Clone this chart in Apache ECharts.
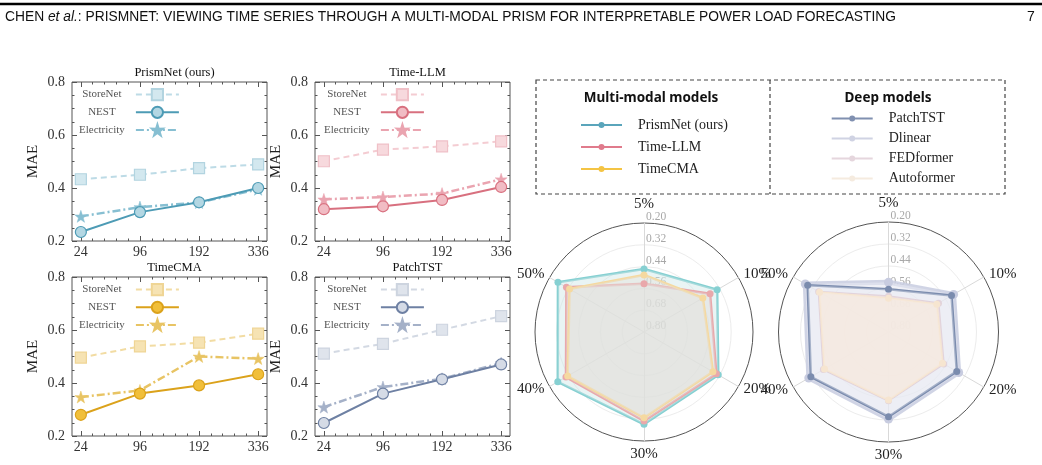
<!DOCTYPE html>
<html><head><meta charset="utf-8">
<script src="https://cdn.jsdelivr.net/npm/echarts@6/dist/echarts.min.js"></script>
<style>html,body{margin:0;padding:0;background:#fff}#c{width:1042px;height:465px}</style>
</head><body><div id="c"></div><script>
// ---------- data ----------
const horizons = ['24', '96', '192', '336'];
const panelTitles = ['PrismNet (ours)', 'Time-LLM', 'TimeCMA', 'PatchTST'];
const datasetNames = ['StoreNet', 'NEST', 'Electricity'];

const prismStoreNet = [0.433, 0.450, 0.475, 0.489];
const prismNEST     = [0.234, 0.309, 0.346, 0.400];
const prismElec     = [0.293, 0.328, 0.345, 0.395];
const llmStoreNet   = [0.501, 0.545, 0.557, 0.576];
const llmNEST       = [0.320, 0.331, 0.355, 0.404];
const llmElec       = [0.357, 0.366, 0.379, 0.433];
const cmaStoreNet   = [0.496, 0.538, 0.552, 0.586];
const cmaNEST       = [0.280, 0.360, 0.391, 0.433];
const cmaElec       = [0.347, 0.372, 0.500, 0.492];
const patchStoreNet = [0.511, 0.548, 0.601, 0.652];
const patchNEST     = [0.249, 0.360, 0.414, 0.470];
const patchElec     = [0.309, 0.385, 0.416, 0.475];

const radarAxes = ['5%', '10%', '20%', '30%', '40%', '50%'];
const multiModalNames = ['PrismNet (ours)', 'Time-LLM', 'TimeCMA'];
const deepNames = ['PatchTST', 'Dlinear', 'FEDformer', 'Autoformer'];
const prismRadar   = [0.453, 0.335, 0.328, 0.292, 0.252, 0.253];
const timeLLMRadar = [0.534, 0.380, 0.340, 0.310, 0.304, 0.307];
const timeCMARadar = [0.486, 0.426, 0.362, 0.328, 0.315, 0.327];
const patchRadar   = [0.567, 0.403, 0.370, 0.338, 0.311, 0.291];
const dlinearRadar = [0.529, 0.390, 0.358, 0.325, 0.298, 0.276];
const fedRadar     = [0.605, 0.485, 0.452, 0.425, 0.390, 0.360];
const autoRadar    = [0.616, 0.496, 0.460, 0.429, 0.397, 0.366];
const radarOuter = 0.20, radarInner = 0.80;

// ---------- styles ----------
const SERIF = 'Liberation Serif';
const panelData = [
  [prismStoreNet, prismNEST, prismElec],
  [llmStoreNet, llmNEST, llmElec],
  [cmaStoreNet, cmaNEST, cmaElec],
  [patchStoreNet, patchNEST, patchElec]
];
const palettes = [
  {line:'#4d9bb5', nestFill:'#b3d7e3', storeLine:'#bddbe6', storeFill:'#d3e8ef', storeBorder:'#b2d4e0', elec:'#87bfd2'},
  {line:'#d8707f', nestFill:'#f1bcc4', storeLine:'#f4ccd2', storeFill:'#f7d9dd', storeBorder:'#f0c0c7', elec:'#eaa4b0'},
  {line:'#dba21b', nestFill:'#f1bf3a', storeLine:'#f2dca3', storeFill:'#f6e3b3', storeBorder:'#efd595', elec:'#e8c464'},
  {line:'#6e80a3', nestFill:'#d5dbe6', storeLine:'#d3d9e3', storeFill:'#dfe4ec', storeBorder:'#cdd4df', elec:'#a5b1c8'}
];
const layouts = [
  {left:72, top:82, legendLeft:79},
  {left:315, top:82, legendLeft:324},
  {left:72, top:277, legendLeft:79},
  {left:315, top:277, legendLeft:324}
];
const GW = 195, GH = 159;
const STAR = 'path://M50,0 L61.8,35.1 L97.6,34.5 L69,56.9 L79.4,90.5 L50,70 L20.6,90.5 L31,56.9 L2.4,34.5 L38.2,35.1 Z';
const majorX = horizons.map((h, i) => i);
const minorX = [];
for (let k = 0; k <= 15; k++) minorX.push(k / 5);

const grids = [], xAxes = [], yAxes = [], series = [], legends = [], titles = [];

titles.push({
  text: 'CHEN {i|et al.}: PRISMNET: VIEWING TIME SERIES THROUGH A MULTI-MODAL PRISM FOR INTERPRETABLE POWER LOAD FORECASTING',
  left: 5, top: 10, padding: 0,
  textStyle: {fontFamily:'Liberation Sans', fontSize:13.8, fontWeight:'normal', color:'#111',
    rich: {i: {fontFamily:'Liberation Sans', fontSize:13.8, fontStyle:'italic', color:'#111'}}}
});

panelData.forEach((vals, g) => {
  const L = layouts[g], P = palettes[g];
  grids.push({left:L.left, top:L.top, width:GW, height:GH, show:true, borderColor:'#555', borderWidth:1, backgroundColor:'transparent'});
  titles.push({text: panelTitles[g], left: L.left + GW / 2, textAlign:'center', top: L.top - 21,
    textStyle:{fontFamily:SERIF, fontSize:12.5, fontWeight:'normal', color:'#111'}});
  const baseX = {type:'value', gridIndex:g, min:-0.15, max:3.15, splitLine:{show:false},
    axisLine:{show:false, onZero:false}};
  xAxes.push(Object.assign({}, baseX, {position:'bottom',
    axisTick:{show:true, inside:true, length:5, customValues:majorX, lineStyle:{color:'#555'}},
    axisLabel:{customValues:majorX, formatter: v => horizons[Math.round(v)], margin:4,
      fontFamily:SERIF, fontSize:14, color:'#333'}}));
  xAxes.push(Object.assign({}, baseX, {position:'bottom',
    axisTick:{show:true, inside:true, length:2.5, customValues:minorX, lineStyle:{color:'#555'}},
    axisLabel:{show:false}}));
  xAxes.push(Object.assign({}, baseX, {position:'top',
    axisTick:{show:true, inside:true, length:5, customValues:majorX, lineStyle:{color:'#555'}},
    axisLabel:{show:false}}));
  xAxes.push(Object.assign({}, baseX, {position:'top',
    axisTick:{show:true, inside:true, length:2.5, customValues:minorX, lineStyle:{color:'#555'}},
    axisLabel:{show:false}}));
  const baseY = {type:'value', gridIndex:g, min:0.2, max:0.8, interval:0.2, splitLine:{show:false},
    axisLine:{show:false, onZero:false},
    axisTick:{show:true, inside:true, length:5, lineStyle:{color:'#555'}},
    minorTick:{show:true, splitNumber:4, length:2.5, lineStyle:{color:'#555'}},
    minorSplitLine:{show:false}};
  yAxes.push(Object.assign({}, baseY, {position:'left',
    axisLabel:{margin:7, fontFamily:SERIF, fontSize:14, color:'#333', formatter: v => v.toFixed(1)},
    name:'MAE', nameLocation:'middle', nameGap:31,
    nameTextStyle:{fontFamily:SERIF, fontSize:15, color:'#222'}}));
  yAxes.push(Object.assign({}, baseY, {position:'right', axisLabel:{show:false}}));

  const names = datasetNames.map(d => panelTitles[g] + '|' + d);
  const toPts = arr => arr.map((v, i) => [i, v]);
  series.push({name:names[0], type:'line', xAxisIndex:g*4, yAxisIndex:g*2, data:toPts(vals[0]),
    symbol:'rect', symbolSize:11, z:2,
    lineStyle:{color:P.storeLine, width:2, type:[6,4]},
    itemStyle:{color:P.storeFill, borderColor:P.storeBorder, borderWidth:1.2}});
  series.push({name:names[2], type:'line', xAxisIndex:g*4, yAxisIndex:g*2, data:toPts(vals[2]),
    symbol:STAR, symbolSize:12, z:3,
    lineStyle:{color:P.elec, width:2.5, type:[8,3,2,3]},
    itemStyle:{color:P.elec, borderColor:P.elec, borderWidth:0.5}});
  series.push({name:names[1], type:'line', xAxisIndex:g*4, yAxisIndex:g*2, data:toPts(vals[1]),
    symbol:'circle', symbolSize:11, z:4,
    lineStyle:{color:P.line, width:2},
    itemStyle:{color:P.nestFill, borderColor:P.line, borderWidth:1.2}});

  legends.push({data:names, orient:'vertical', left:L.legendLeft, top:L.top + 6, align:'right',
    itemWidth:43, itemHeight:14, itemGap:4.5, padding:0, selectedMode:false,
    formatter: n => '{c|' + n.split('|')[1] + '}',
    textStyle:{rich:{c:{width:58, align:'center', fontFamily:SERIF, fontSize:11, color:'#555'}}}});
});

// ---------- radars ----------
// ECharts lays indicators out counter-clockwise; the reference runs clockwise from the top.
const order = [0, 5, 4, 3, 2, 1];
const span = radarInner - radarOuter;
const radarCommon = {
  shape:'circle', splitNumber:5, nameGap:6,
  axisName:{color:'#222', fontFamily:SERIF, fontSize:15},
  axisLine:{lineStyle:{color:'#d9d9d9', width:1}},
  axisTick:{show:false},
  splitArea:{show:false},
  splitLine:{lineStyle:{color:['#ececec','#ececec','#ececec','#ececec','#ececec','#555'], width:1}},
  axisLabel:{show:true, color:'#a8a8a8', fontFamily:SERIF, fontSize:11.5, margin:-2, align:'left',
    verticalAlign:'bottom', formatter: v => (radarInner - v).toFixed(2)},
  indicator: order.map((k, i) => ({name:radarAxes[k], min:0, max:span, axisLabel:{show: i === 0}}))
};
const radars = [
  Object.assign({center:[644, 332], radius:109}, radarCommon),
  Object.assign({center:[888.5, 332], radius:110}, radarCommon)
];
const tr = arr => order.map(k => +(radarInner - arr[k]).toFixed(4));
series.push({type:'radar', radarIndex:0, symbol:'circle', symbolSize:7, z:5, data:[
  {name:multiModalNames[0], value:tr(prismRadar), lineStyle:{color:'#86d0d2', width:2.5},
    itemStyle:{color:'#86d0d2'}, areaStyle:{color:'#cfe6e6', opacity:0.45}},
  {name:multiModalNames[1], value:tr(timeLLMRadar), lineStyle:{color:'#e9a8ab', width:2.5},
    itemStyle:{color:'#e9a8ab'}, areaStyle:{color:'#e0dcdc', opacity:0.45}},
  {name:multiModalNames[2], value:tr(timeCMARadar), lineStyle:{color:'#f5d9a0', width:2.5},
    itemStyle:{color:'#f5d9a0'}, areaStyle:{color:'#e4e2dc', opacity:0.45}}
]});
series.push({type:'radar', radarIndex:1, symbol:'circle', symbolSize:7, z:5, data:[
  {name:deepNames[1], value:tr(dlinearRadar), lineStyle:{color:'#c8cce0', width:5, opacity:0.85},
    itemStyle:{color:'#c8cce0'}, symbolSize:9, areaStyle:{color:'#e6e8f1', opacity:0.6}},
  {name:deepNames[0], value:tr(patchRadar), lineStyle:{color:'#7b8cae', width:2.5},
    itemStyle:{color:'#7b8cae'}, areaStyle:{color:'#e9ebf3', opacity:0.4}},
  {name:deepNames[2], value:tr(fedRadar), lineStyle:{color:'#e2d3db', width:2},
    itemStyle:{color:'#e2d3db'}, areaStyle:{color:'#f1e6e6', opacity:0.5}},
  {name:deepNames[3], value:tr(autoRadar), lineStyle:{color:'#f6e5d0', width:2},
    itemStyle:{color:'#f6e5d0'}, areaStyle:{color:'#f6eadf', opacity:0.75}}
]});

const LEG_ICON = 'path://M0,2 L41,2 L41,4 L0,4 Z M17.5,3 a3,3 0 1,1 6,0 a3,3 0 1,1 -6,0 Z';
const multiColors = ['#5aa5bb', '#e07b8c', '#f4c444'];
const deepColors = ['#8090b0', '#d0d3e3', '#e5d6dd', '#f5ebdf'];
legends.push({data: multiModalNames.map((n, i) => ({name:n, itemStyle:{color:multiColors[i], opacity:1}})),
  orient:'vertical', left:581, top:118, icon:LEG_ICON, itemWidth:41, itemHeight:6, itemGap:8,
  padding:0, selectedMode:false,
  textStyle:{fontFamily:SERIF, fontSize:14, color:'#222', padding:[0,0,0,11]}});
legends.push({data: deepNames.map((n, i) => ({name:n, itemStyle:{color:deepColors[i], opacity:1}})),
  orient:'vertical', left:831.7, top:111.5, icon:LEG_ICON, itemWidth:41, itemHeight:6, itemGap:6,
  padding:0, selectedMode:false,
  textStyle:{fontFamily:SERIF, fontSize:14, color:'#222', padding:[0,0,0,11]}});

const graphics = [
  {type:'line', shape:{x1:0, y1:4, x2:1042, y2:4}, style:{stroke:'#000', lineWidth:2.5}},
  {type:'text', x:1027, y:10, style:{text:'7', fontFamily:'Liberation Sans', fontSize:14, fill:'#111'}},
  {type:'rect', shape:{x:536, y:80, width:469, height:114}, style:{fill:'none', stroke:'#444', lineWidth:1.2, lineDash:[4,3]}},
  {type:'line', shape:{x1:770, y1:80, x2:770, y2:194}, style:{stroke:'#444', lineWidth:1.2, lineDash:[4,3]}},
  {type:'text', x:651, y:98, style:{text:'Multi-modal models', align:'center', verticalAlign:'middle',
    fontFamily:'Noto Sans', fontWeight:'bold', fontSize:13.5, fill:'#111'}},
  {type:'text', x:888, y:98, style:{text:'Deep models', align:'center', verticalAlign:'middle',
    fontFamily:'Noto Sans', fontWeight:'bold', fontSize:13.5, fill:'#111'}}
];

const chart = echarts.init(document.getElementById('c'), null, {renderer:'canvas'});
chart.setOption({
  animation:false, backgroundColor:'#fff',
  title:titles, grid:grids, xAxis:xAxes, yAxis:yAxes, radar:radars,
  legend:legends, series:series, graphic:graphics
});
</script></body></html>
